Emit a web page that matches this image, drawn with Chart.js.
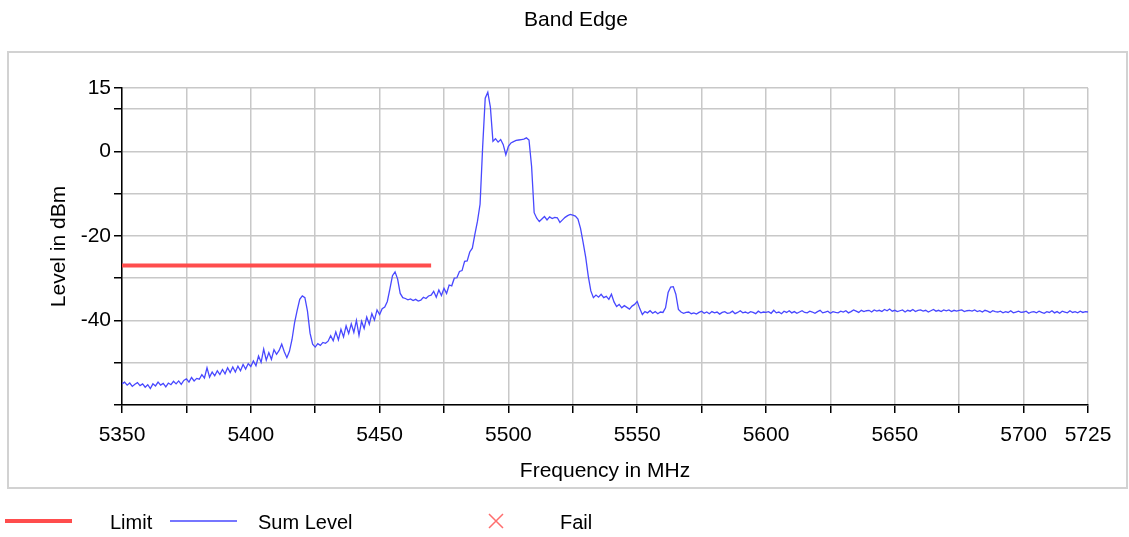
<!DOCTYPE html>
<html>
<head>
<meta charset="utf-8">
<title>Band Edge</title>
<script src="https://cdn.jsdelivr.net/npm/chart.js@4/dist/chart.umd.min.js"></script>
<style>
    html, body { margin: 0; padding: 0; background: #fff; }
    #wrap { width: 1129px; height: 537px; }
</style>
</head>
<body>
<div id="wrap"><canvas id="bandChart"></canvas></div>
<script>
const chartTitle = 'Band Edge';
const xTitle = 'Frequency in MHz';
const yTitle = 'Level in dBm';

// x tick labels shown on the axis, y tick labels shown on the axis
const xTickLabels = [5350, 5400, 5450, 5500, 5550, 5600, 5650, 5700, 5725];
const yTickLabels = [15, 0, -20, -40];

// limit line
const limitFreqs = [5350, 5470];
const limitLevels = [-27, -27];

// sum level trace, one reading per MHz from 5350 MHz
const traceStart = 5350;
const traceStep = 1;
const sumLevels = [
    -55.0, -54.6, -55.3, -54.8, -55.6, -55.1, -54.7, -55.4, -55.0, -55.8,
    -55.2, -56.1, -55.0, -55.5, -54.6, -55.3, -54.9, -55.7, -54.8, -55.2,
    -54.4, -55.0, -54.3, -55.1, -54.2, -53.8, -54.6, -53.5, -54.3, -53.7,
    -53.9, -52.8, -53.6, -51.2, -53.4, -52.2, -53.1, -51.9, -52.8, -51.6,
    -52.6, -51.2, -52.3, -51.0, -52.2, -50.8, -51.9, -50.4, -51.5, -50.2,
    -50.9, -49.6, -50.7, -48.4, -49.9, -46.8, -49.4, -47.6, -49.2, -46.9,
    -48.0, -47.1, -45.6, -47.4, -48.8, -47.3, -44.5, -40.5, -37.6, -35.0,
    -34.2, -34.6, -37.8, -43.0, -45.6, -46.3, -45.5, -45.9, -45.2, -45.4,
    -44.9, -43.6, -44.8, -42.7, -44.6, -42.1, -43.9, -41.3, -43.1, -40.8,
    -42.8, -40.0, -43.5, -40.2, -41.9, -39.2, -40.9, -38.4, -39.9, -37.5,
    -38.6, -37.2, -36.8, -35.5, -32.5, -29.4, -28.5, -30.2, -33.6, -34.6,
    -34.8, -35.1, -34.9, -35.3, -35.0, -35.4, -35.2, -34.5, -34.8, -34.2,
    -34.0, -33.1, -34.5, -32.8, -34.1, -32.4, -33.6, -31.6, -31.8, -30.0,
    -29.9, -28.4, -28.2, -26.0, -25.9, -23.8, -22.9, -19.6, -16.5, -12.5,
    1.0, 12.6, 14.0, 10.5, 2.4, 3.0, 2.2, 2.8, 1.6, -0.8,
    1.2, 2.0, 2.3, 2.6, 2.7, 2.8, 2.9, 3.2, 2.7, -3.5,
    -14.5, -15.8, -16.6, -16.0, -15.4, -16.2, -15.5, -15.9, -15.6, -15.7,
    -16.8, -16.2, -15.6, -15.2, -14.9, -15.1, -15.3, -16.0, -18.2, -21.5,
    -25.0, -29.5, -33.0, -34.6, -34.0, -34.5, -33.8, -34.6, -34.3, -35.0,
    -33.8, -35.6, -36.7, -36.2, -37.0, -36.5, -36.9, -37.3, -36.6, -36.2,
    -35.5, -37.2, -38.6, -37.9, -38.2, -37.7, -38.3, -37.9, -38.4, -38.0,
    -38.1, -37.0, -33.4, -32.1, -32.0, -33.8, -37.4, -38.0, -38.3, -38.1,
    -38.0, -38.4, -38.2, -38.5, -38.1, -37.8, -38.3, -38.0, -38.4, -37.9,
    -38.2, -38.0, -38.5, -38.1, -37.9, -38.3, -38.2, -37.8, -38.4, -38.1,
    -37.7, -38.2, -38.0, -38.3, -37.9, -38.1, -38.4, -37.8, -38.2, -38.0,
    -38.1, -37.9, -38.3, -37.6, -38.2, -38.0, -38.4, -37.8, -38.1, -37.7,
    -38.2, -37.9, -38.3, -38.0, -37.7, -38.1, -38.2, -37.8, -38.0, -38.3,
    -37.9, -37.6, -38.2, -38.0, -37.8, -38.3, -37.9, -38.1, -38.2, -37.8,
    -38.0, -37.7, -38.2, -37.9, -37.5, -37.8, -38.1, -37.6, -37.9, -37.7,
    -37.6, -38.0, -37.5, -37.8, -37.6, -37.9, -37.4, -37.7, -37.3, -37.8,
    -37.6, -37.9, -37.7, -37.5, -38.0, -37.6, -37.8, -37.4, -37.9, -37.6,
    -37.5, -37.8, -37.6, -38.0, -37.7, -37.4, -37.8, -37.6, -37.9, -37.5,
    -37.7, -37.5, -37.9, -37.6, -37.8, -37.6, -37.5, -37.9, -37.7, -37.6,
    -37.8, -37.5, -37.9, -37.7, -38.0, -37.6, -37.8, -38.1, -37.7, -37.9,
    -38.0, -37.8, -38.2, -37.9, -38.1, -37.7, -38.2, -38.0, -37.8, -38.1,
    -38.0, -37.8, -38.3, -38.0, -37.9, -38.2, -37.8, -38.1, -38.3, -37.9,
    -38.1, -37.7, -38.2, -37.9, -38.3, -37.8, -38.0, -38.2, -37.7, -38.1,
    -37.9, -38.2, -37.8, -38.1, -37.9, -38.0
];

const FONT = "'Liberation Sans', Arial, sans-serif";
const limitColor = 'rgb(255, 77, 77)';
const traceColor = 'rgb(72, 72, 255)';
const gridColor = '#c8c8c8';

const limitPoints = limitFreqs.map((f, i) => ({ x: f, y: limitLevels[i] }));
const tracePoints = sumLevels.map((v, i) => ({ x: traceStart + i * traceStep, y: v }));

// frame, title and legend drawn around the plot
const framePlugin = {
    id: 'frame',
    beforeDraw(chart) {
        const ctx = chart.ctx;
        ctx.save();
        ctx.fillStyle = '#fff';
        ctx.fillRect(0, 0, chart.width, chart.height);
        ctx.strokeStyle = '#d2d2d2';
        ctx.lineWidth = 2;
        ctx.strokeRect(8, 52, 1119, 436);
        ctx.restore();
    },
    afterDraw(chart) {
        const ctx = chart.ctx;
        ctx.save();
        ctx.fillStyle = '#000';
        ctx.font = '21px ' + FONT;
        ctx.textAlign = 'center';
        ctx.textBaseline = 'middle';
        ctx.fillText(chartTitle, 576, 20);

        const ly = 521;
        const sets = chart.data.datasets;
        ctx.font = '20px ' + FONT;
        ctx.textAlign = 'left';

        ctx.strokeStyle = sets[0].borderColor;
        ctx.lineWidth = 4;
        ctx.beginPath();
        ctx.moveTo(5, ly);
        ctx.lineTo(72, ly);
        ctx.stroke();
        ctx.fillText(sets[0].label, 110, ly + 2);

        ctx.strokeStyle = sets[1].borderColor;
        ctx.lineWidth = 1.3;
        ctx.beginPath();
        ctx.moveTo(170, ly);
        ctx.lineTo(237, ly);
        ctx.stroke();
        ctx.fillText(sets[1].label, 258, ly + 2);

        ctx.strokeStyle = sets[2].borderColor;
        ctx.lineWidth = 1.5;
        ctx.beginPath();
        ctx.moveTo(489, ly - 7);
        ctx.lineTo(503, ly + 7);
        ctx.moveTo(503, ly - 7);
        ctx.lineTo(489, ly + 7);
        ctx.stroke();
        ctx.fillText(sets[2].label, 560, ly + 2);
        ctx.restore();
    }
};

const ctx = document.getElementById('bandChart').getContext('2d');

new Chart(ctx, {
    type: 'line',
    data: {
        datasets: [{
            label: 'Limit',
            data: limitPoints,
            borderColor: limitColor,
            borderWidth: 4,
            pointRadius: 0,
            order: 1
        }, {
            label: 'Sum Level',
            data: tracePoints,
            borderColor: traceColor,
            borderWidth: 1.3,
            pointRadius: 0,
            tension: 0,
            order: 0
        }, {
            label: 'Fail',
            data: [],
            borderColor: 'rgb(255, 110, 110)',
            pointStyle: 'crossRot',
            showLine: false
        }]
    },
    options: {
        responsive: true,
        maintainAspectRatio: false,
        animation: false,
        layout: {
            padding: { top: 88, right: 41, bottom: 0, left: 0 }
        },
        plugins: {
            legend: { display: false },
            title: { display: false },
            tooltip: { enabled: false }
        },
        scales: {
            x: {
                type: 'linear',
                min: 5350,
                max: 5725,
                afterBuildTicks: (axis) => {
                    const ticks = [];
                    for (let v = 5350; v <= 5725; v += 25) ticks.push({ value: v });
                    axis.ticks = ticks;
                },
                afterFit: (axis) => { axis.height = 132; },
                ticks: {
                    autoSkip: false,
                    maxRotation: 0,
                    padding: 10,
                    color: '#000',
                    font: { family: FONT, size: 21 },
                    callback: (value) => xTickLabels.includes(value) ? String(value) : ''
                },
                grid: {
                    color: gridColor,
                    lineWidth: 1.5,
                    tickLength: 8,
                    tickColor: '#000',
                    tickWidth: 1.5
                },
                border: { color: '#000', width: 1.5 },
                title: {
                    display: true,
                    text: xTitle,
                    color: '#000',
                    font: { family: FONT, size: 21 },
                    padding: { top: 0, bottom: 53 }
                }
            },
            y: {
                min: -60,
                max: 15,
                afterBuildTicks: (axis) => {
                    const ticks = [];
                    for (let v = -60; v <= 10; v += 10) ticks.push({ value: v });
                    ticks.push({ value: 15 });
                    axis.ticks = ticks;
                },
                afterFit: (axis) => { axis.width = 122; },
                ticks: {
                    autoSkip: false,
                    padding: 3,
                    color: '#000',
                    font: { family: FONT, size: 21 },
                    callback: (value) => yTickLabels.includes(value) ? String(value) : ''
                },
                grid: {
                    color: gridColor,
                    lineWidth: 1.5,
                    tickLength: 8,
                    tickColor: '#000',
                    tickWidth: 1.5
                },
                border: { color: '#000', width: 1.5 },
                title: {
                    display: true,
                    text: yTitle,
                    color: '#000',
                    font: { family: FONT, size: 21 },
                    padding: { top: 47, bottom: 0 }
                }
            }
        }
    },
    plugins: [framePlugin]
});
</script>
</body>
</html>
